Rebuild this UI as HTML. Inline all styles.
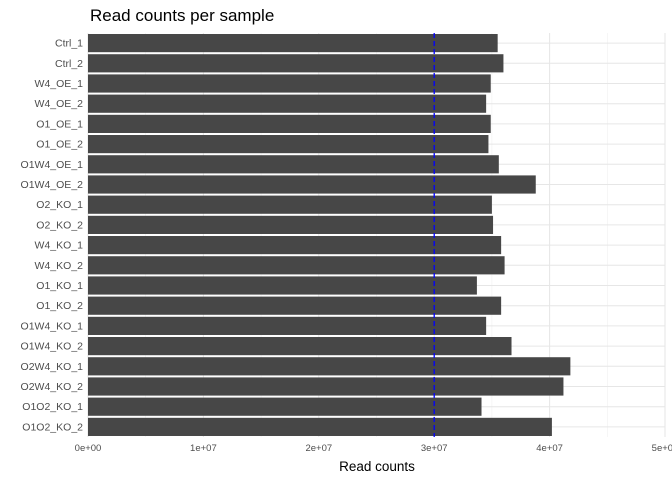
<!DOCTYPE html>
<html><head><meta charset="utf-8"><style>
body{margin:0;background:#fff;font-family:"Liberation Sans",sans-serif}
</style></head><body>
<svg id="chart" width="672" height="480" xmlns="http://www.w3.org/2000/svg">
<text x="90" y="21" font-size="17" fill="#000">Read counts per sample</text>
<g id="grid"></g><g id="bars"></g><g id="axes"></g>
<text x="377" y="471" font-size="13.5" text-anchor="middle" fill="#000">Read counts</text>
</svg>
<script>
const categories=["Ctrl_1","Ctrl_2","W4_OE_1","W4_OE_2","O1_OE_1","O1_OE_2","O1W4_OE_1","O1W4_OE_2","O2_KO_1","O2_KO_2","W4_KO_1","W4_KO_2","O1_KO_1","O1_KO_2","O1W4_KO_1","O1W4_KO_2","O2W4_KO_1","O2W4_KO_2","O1O2_KO_1","O1O2_KO_2"];
const values=[3.55e7,3.6e7,3.49e7,3.45e7,3.49e7,3.47e7,3.56e7,3.88e7,3.5e7,3.51e7,3.58e7,3.61e7,3.37e7,3.58e7,3.45e7,3.67e7,4.18e7,4.12e7,3.41e7,4.02e7];
const tickValues=[0,1e7,2e7,3e7,4e7,5e7];
const tickLabels=["0e+00","1e+07","2e+07","3e+07","4e+07","5e+07"];
const threshold=[3e7];
const NS="http://www.w3.org/2000/svg";
const x0=88,x1=665,xmax=5e7;
const xs=v=>x0+(x1-x0)*v/xmax;
const yTop=33,yBot=437,step=(yBot-yTop)/categories.length;
const yc=i=>yTop+step*(i+0.5);
function mk(tag,attrs,parent,text){const e=document.createElementNS(NS,tag);for(const k in attrs)e.setAttribute(k,attrs[k]);if(text!==undefined)e.textContent=text;parent.appendChild(e);return e;}
const grid=document.getElementById('grid'),bars=document.getElementById('bars'),axes=document.getElementById('axes');
for(let i=0;i<tickValues.length-1;i++){const v=(tickValues[i]+tickValues[i+1])/2;const l=mk('line',{x1:xs(v),x2:xs(v),y1:yTop,y2:yBot,stroke:'#f0f0f0','stroke-width':0.6},grid);

}
tickValues.forEach((v,i)=>{const l=mk('line',{x1:xs(v),x2:xs(v),y1:yTop,y2:yBot,stroke:'#e6e6e6','stroke-width':1},grid);


const t=mk('text',{x:xs(v),y:451,'font-size':9.5,'text-anchor':'middle',fill:'#4d4d4d'},axes,tickLabels[i]);

});
categories.forEach((c,i)=>{const g=mk('line',{x1:x0,x2:x1,y1:yc(i),y2:yc(i),stroke:'#e6e6e6','stroke-width':1},grid);


const h=step*0.9;const r=mk('rect',{x:x0,y:yc(i)-h/2,width:xs(values[i])-x0,height:h,fill:'#474747'},bars);


const t=mk('text',{x:83,y:yc(i)+3.5,'font-size':10.5,'text-anchor':'end',fill:'#4d4d4d'},axes,c);

});
threshold.forEach(v=>{const l=mk('line',{x1:xs(v),x2:xs(v),y1:yTop,y2:yBot,stroke:'#0000ff','stroke-width':1.3,'stroke-dasharray':'5,3'},axes);

});
</script>
</body></html>
